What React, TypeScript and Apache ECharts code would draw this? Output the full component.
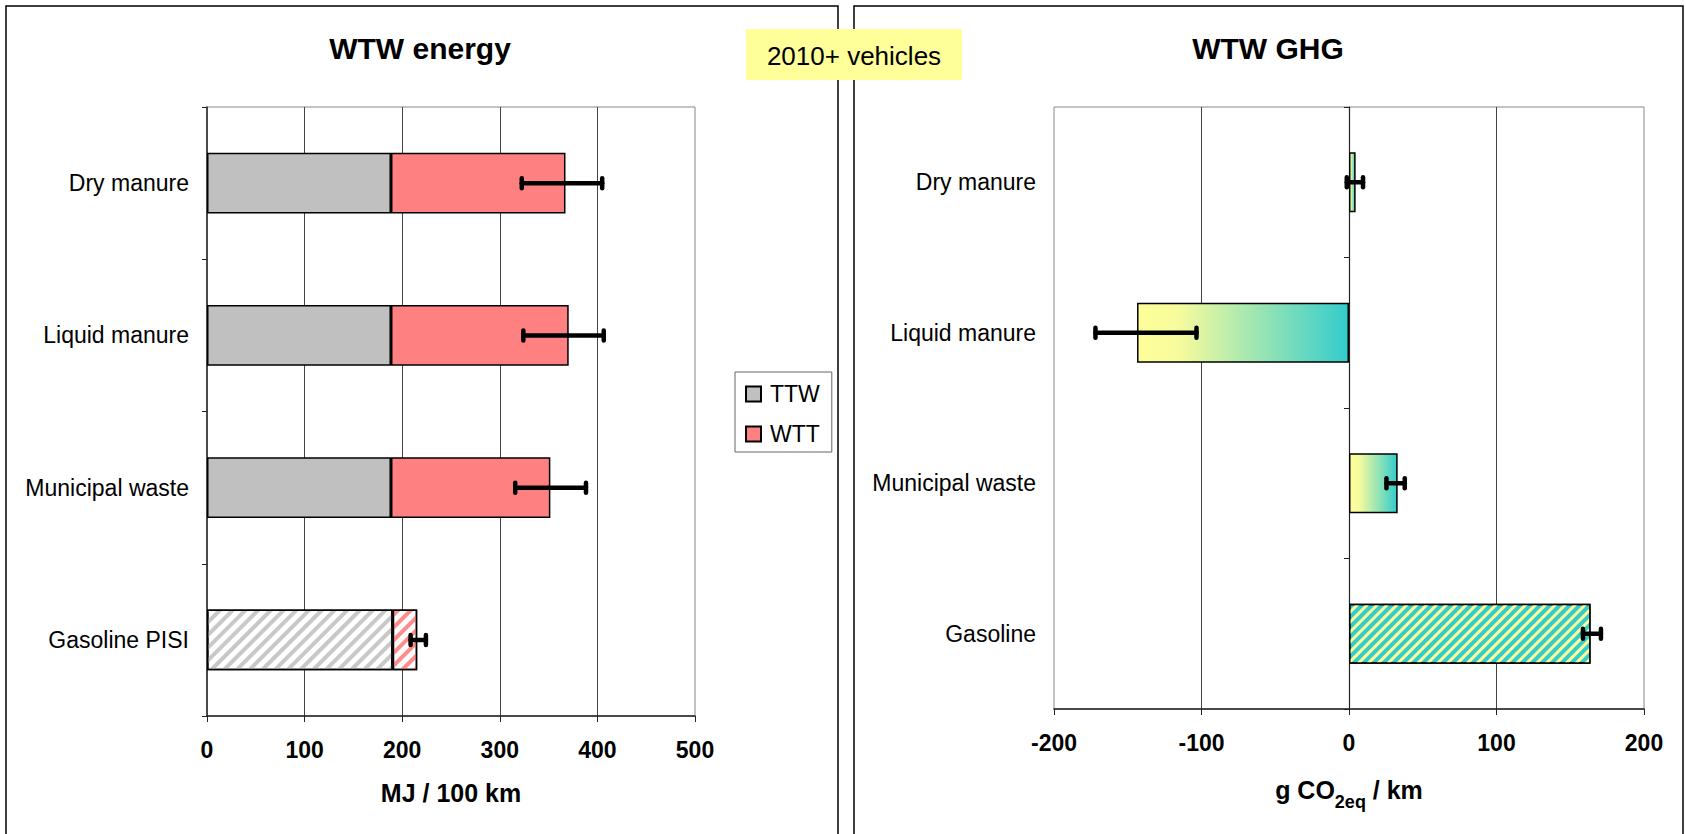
import React, { useEffect, useRef } from 'react';
import * as echarts from 'echarts';

const FONT = "'Liberation Sans', Arial, sans-serif";

// ---- Left chart: WTW energy (MJ / 100 km) ----
const energyCategories = ['Dry manure', 'Liquid manure', 'Municipal waste', 'Gasoline PISI'];
const ttwValues = [188.5, 188.5, 188.5, 190.2];
const wttValues = [178.8, 182.1, 163.3, 25.2];
const energyErrLow = [322.5, 324.1, 315.8, 208.6];
const energyErrHigh = [404.9, 406.5, 388.3, 224.3];
const energyMin = 0;
const energyMax = 500;
const energyInterval = 100;

// ---- Right chart: WTW GHG (g CO2eq / km) ----
const ghgCategories = ['Dry manure', 'Liquid manure', 'Municipal waste', 'Gasoline'];
const ghgValues = [4.5, -143.7, 33, 163.8];
const ghgErrLow = [-1.5, -171.9, 25.4, 158.6];
const ghgErrHigh = [9.5, -103.4, 37.8, 170.8];
const ghgMin = -200;
const ghgMax = 200;
const ghgInterval = 100;

const legendNames = ['TTW', 'WTT'];
const badgeText = '2010+ vehicles';
const titles = ['WTW energy', 'WTW GHG'];

const errRender = (params: any, api: any) => {
  const idx = api.value(0);
  const lo = api.coord([api.value(1), idx]);
  const hi = api.coord([api.value(2), idx]);
  const y = lo[1];
  const st = { stroke: '#000', lineWidth: 4.5, lineCap: 'round' };
  return {
    type: 'group',
    children: [
      { type: 'line', shape: { x1: lo[0], y1: y, x2: hi[0], y2: y }, style: st },
      { type: 'line', shape: { x1: lo[0], y1: y - 5, x2: lo[0], y2: y + 5 }, style: st },
      { type: 'line', shape: { x1: hi[0], y1: y - 5, x2: hi[0], y2: y + 5 }, style: st },
    ],
  };
};

const hatch = (color: string, on: number, off: number) => ({
  symbol: 'rect',
  symbolSize: 1,
  dashArrayX: [1, 0],
  dashArrayY: [on, off],
  rotation: -Math.PI / 4,
  color,
});

export default function App() {
  const ref = useRef<HTMLDivElement>(null);

  useEffect(() => {
    if (!ref.current) return;
    const chart = echarts.init(ref.current, undefined, { renderer: 'svg' });

    const gradient = new echarts.graphic.LinearGradient(0, 0, 1, 0, [
      { offset: 0, color: '#ffff99' },
      { offset: 0.2, color: '#f6fb9d' },
      { offset: 1, color: '#33cccc' },
    ]);

    const lastIdx = energyCategories.length - 1;
    const ttwData = ttwValues.map((v, i) =>
      i === lastIdx
        ? { value: v, itemStyle: { color: '#ffffff', decal: hatch('#c8c8c8', 3.5, 5) } }
        : v
    );
    const wttData = wttValues.map((v, i) =>
      i === lastIdx
        ? { value: v, itemStyle: { color: '#ffffff', decal: hatch('#ff8c8c', 3.5, 5) } }
        : v
    );
    const ghgLast = ghgCategories.length - 1;
    const ghgData = ghgValues.map((v, i) =>
      i === ghgLast
        ? { value: v, itemStyle: { color: '#33cccc', decal: hatch('#ffff99', 2.5, 4) } }
        : { value: v, itemStyle: { color: gradient } }
    );

    const catLabel = { fontFamily: FONT, fontSize: 23, color: '#000', margin: 18 };
    const valLabel = { fontFamily: FONT, fontSize: 23, fontWeight: 'bold', color: '#000', margin: 22, lineHeight: 23 };
    const axisLineStyle = { color: '#222', width: 1.5 };
    const gridLine = { show: true, showMinLine: false, showMaxLine: false, lineStyle: { color: '#444', width: 1 } };

    const option: any = {
      animation: false,
      backgroundColor: '#fff',
      textStyle: { fontFamily: FONT },
      grid: [
        { left: 207, top: 107, width: 488, height: 609, show: true, borderColor: '#888', borderWidth: 1, outerBoundsMode: 'none', containLabel: false },
        { left: 1054, top: 107, width: 590, height: 602, show: true, borderColor: '#888', borderWidth: 1, outerBoundsMode: 'none', containLabel: false },
      ],
      legend: {
        data: legendNames,
        orient: 'vertical',
        left: 735,
        top: 372,
        padding: [9, 12, 5, 10],
        itemGap: 14,
        itemWidth: 15,
        itemHeight: 15,
        icon: 'rect',
        borderColor: '#666',
        borderWidth: 1,
        backgroundColor: '#fff',
        textStyle: { fontFamily: FONT, fontSize: 23, color: '#000', lineHeight: 26, padding: [0, 0, 0, 4] },
      },
      xAxis: [
        {
          type: 'value', gridIndex: 0, min: energyMin, max: energyMax, interval: energyInterval,
          axisLine: { show: true, lineStyle: axisLineStyle },
          axisTick: { show: true, length: 6, lineStyle: { color: '#222' } },
          axisLabel: valLabel,
          splitLine: gridLine,
          name: 'MJ / 100 km', nameLocation: 'middle', nameGap: 61.5,
          nameTextStyle: { fontFamily: FONT, fontSize: 25, fontWeight: 'bold', color: '#000', lineHeight: 30 },
        },
        {
          type: 'value', gridIndex: 1, min: ghgMin, max: ghgMax, interval: ghgInterval,
          axisLine: { show: true, onZero: false, lineStyle: axisLineStyle },
          axisTick: { show: true, length: 6, lineStyle: { color: '#222' } },
          axisLabel: valLabel,
          splitLine: gridLine,
          name: '{m|g CO}{s|2eq}{m| / km}', nameLocation: 'middle', nameGap: 68,
          nameTextStyle: {
            rich: {
              m: { fontFamily: FONT, fontSize: 25, fontWeight: 'bold', color: '#000', lineHeight: 30, verticalAlign: 'top' },
              s: { fontFamily: FONT, fontSize: 18, fontWeight: 'bold', color: '#000', lineHeight: 18, verticalAlign: 'top', padding: [16, 0, 0, 0] },
            },
          },
        },
      ],
      yAxis: [
        {
          type: 'category', gridIndex: 0, data: energyCategories, inverse: true, position: 'left',
          axisLine: { show: true, onZero: false, lineStyle: axisLineStyle },
          axisTick: { show: true, length: 5, lineStyle: { color: '#222' } },
          axisLabel: catLabel,
          splitLine: { show: false },
        },
        {
          type: 'category', gridIndex: 1, data: ghgCategories, inverse: true, position: 'left',
          axisLine: { show: false, onZero: false },
          axisTick: { show: false },
          axisLabel: catLabel,
          splitLine: { show: false },
        },
        {
          type: 'category', gridIndex: 1, data: ghgCategories, inverse: true, position: 'left',
          axisLine: { show: true, onZero: true, onZeroAxisIndex: 1, lineStyle: { color: '#222', width: 1.2 } },
          axisTick: { show: true, length: 5, lineStyle: { color: '#222' } },
          axisLabel: { show: false },
          splitLine: { show: false },
        },
      ],
      series: [
        {
          name: 'TTW', type: 'bar', xAxisIndex: 0, yAxisIndex: 0, stack: 'energy', barWidth: '40%',
          itemStyle: { color: '#c0c0c0', borderColor: '#000', borderWidth: 1.5 },
          data: ttwData,
        },
        {
          name: 'WTT', type: 'bar', xAxisIndex: 0, yAxisIndex: 0, stack: 'energy', barWidth: '40%',
          itemStyle: { color: '#ff8080', borderColor: '#000', borderWidth: 1.5 },
          data: wttData,
        },
        {
          name: 'energyErr', type: 'custom', xAxisIndex: 0, yAxisIndex: 0, z: 5,
          renderItem: errRender,
          encode: { x: [1, 2], y: 0 },
          data: energyCategories.map((_, i) => [i, energyErrLow[i], energyErrHigh[i]]),
        },
        {
          name: 'GHG', type: 'bar', xAxisIndex: 1, yAxisIndex: 1, barWidth: '40%',
          itemStyle: { borderColor: '#000', borderWidth: 1.5 },
          data: ghgData,
        },
        {
          name: 'ghgErr', type: 'custom', xAxisIndex: 1, yAxisIndex: 1, z: 5,
          renderItem: errRender,
          encode: { x: [1, 2], y: 0 },
          data: ghgCategories.map((_, i) => [i, ghgErrLow[i], ghgErrHigh[i]]),
        },
      ],
      graphic: [
        { type: 'rect', z: 0, silent: true, shape: { x: 6, y: 6, width: 832, height: 850 }, style: { fill: 'none', stroke: '#000', lineWidth: 1.5 } },
        { type: 'rect', z: 0, silent: true, shape: { x: 854, y: 6, width: 829, height: 850 }, style: { fill: 'none', stroke: '#000', lineWidth: 1.5 } },
        { type: 'rect', z: 10, silent: true, shape: { x: 746, y: 29, width: 216, height: 51 }, style: { fill: '#ffff99' } },
        { type: 'text', z: 11, silent: true, x: 854, y: 56, style: { text: badgeText, font: `26px ${FONT}`, fill: '#000', textAlign: 'center', textVerticalAlign: 'middle' } },
        { type: 'text', z: 11, silent: true, x: 420, y: 48, style: { text: titles[0], font: `bold 30px ${FONT}`, fill: '#000', textAlign: 'center', textVerticalAlign: 'middle' } },
        { type: 'text', z: 11, silent: true, x: 1268, y: 48, style: { text: titles[1], font: `bold 30px ${FONT}`, fill: '#000', textAlign: 'center', textVerticalAlign: 'middle' } },
      ],
    };

    chart.setOption(option);
    return () => chart.dispose();
  }, []);

  return (
    <div
      ref={ref}
      style={{ position: 'fixed', left: 0, top: 0, width: 1686, height: 834, background: '#fff' }}
    />
  );
}
